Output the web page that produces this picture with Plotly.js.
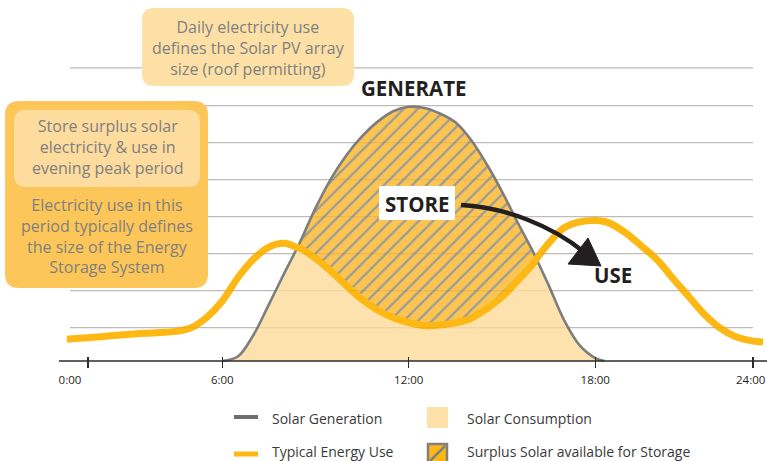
<!DOCTYPE html>
<html><head><meta charset="utf-8">
<script src="https://cdn.plot.ly/plotly-3.0.1.min.js"></script>
<style>html,body{margin:0;padding:0;background:#fff;overflow:hidden}#chart{width:767px;height:461px}</style>
</head><body><div id="chart"></div>
<script>
// ---- data (x in hours on the drawn scale, y in grid units) ----
const hours = [1.0,1.5,2.0,2.5,3.0,3.5,4.0,4.5,5.0,5.5,6.0,6.5,7.0,7.5,8.0,8.4,8.5,9.0,9.5,10.0,10.5,11.0,11.5,12.0,12.5,13.0,13.5,14.0,14.5,15.0,15.5,16.0,16.1,16.5,17.0,17.5,18.0,18.3,18.5,19.0,19.5,20.0,20.5,21.0,21.5,22.0,22.5,23.0,23.4];
const energyUse = [0.59,0.62,0.65,0.69,0.72,0.75,0.77,0.80,0.90,1.18,1.62,2.25,2.75,3.08,3.18,3.07,3.05,2.77,2.42,2.03,1.66,1.37,1.17,1.04,0.96,0.97,1.03,1.15,1.41,1.73,2.17,2.63,2.75,3.18,3.60,3.76,3.80,3.77,3.71,3.45,3.10,2.73,2.23,1.75,1.27,0.90,0.66,0.55,0.51];
const solarGen = [null,null,null,null,null,null,null,null,null,null,0,0.12,0.70,1.53,2.38,3.04,3.21,4.13,4.93,5.57,6.08,6.47,6.75,6.87,6.84,6.69,6.45,5.98,5.33,4.58,3.75,2.95,2.77,2.05,1.10,0.42,0.08,0,null,null,null,null,null,null,null,null,null,null,null];
const tickHours = [1.68, 6, 12, 18, 23.07];
const tickLabelHours = [1.10, 6, 12, 18, 23.0];
const tickLabels = ['0:00','6:00','12:00','18:00','24:00'];
const gridLevels = [0.9,1.9,2.9,3.9,4.9,5.9,6.9,7.92];
const seriesNames = ['Solar Generation','Solar Consumption','Typical Energy Use','Surplus Solar available for Storage'];

// ---- layout geometry ----
const W=767,H=461,L=60,R=0,T=0,B=94;
const PW=W-L-R, PH=H-T-B;
const X0=35.8, XS=31.08, Y0=361, YS=37;
const xRange=[(L-X0)/XS,(W-R-X0)/XS];
const yRange=[(Y0-(H-B))/YS,(Y0-T)/YS];
const fx=p=>(p-L)/PW, fy=p=>(H-B-p)/PH;
function rr(x0,y0,x1,y1,r){
  const a=fx,b=fy;
  return `M${a(x0+r)},${b(y0)} L${a(x1-r)},${b(y0)} Q${a(x1)},${b(y0)} ${a(x1)},${b(y0+r)} L${a(x1)},${b(y1-r)} Q${a(x1)},${b(y1)} ${a(x1-r)},${b(y1)} L${a(x0+r)},${b(y1)} Q${a(x0)},${b(y1)} ${a(x0)},${b(y1-r)} L${a(x0)},${b(y0+r)} Q${a(x0)},${b(y0)} ${a(x0+r)},${b(y0)} Z`;
}
const P=(x,y)=>`${fx(x)},${fy(y)}`;

const consumption = solarGen.map((g,i)=> g===null ? null : Math.min(g, energyUse[i]));

const FONT='Open Sans, Noto Sans, sans-serif';
const traces=[
  {x:hours,y:solarGen,name:seriesNames[3],type:'scatter',mode:'lines',fill:'tozeroy',
   line:{width:0,shape:'spline',smoothing:1},fillcolor:'#FCC552',
   fillpattern:{shape:'/',bgcolor:'#FCC552',fgcolor:'#9B9B9B',size:10,solidity:0.22},
   hoverinfo:'skip',showlegend:false},
  {x:hours,y:consumption,name:seriesNames[1],type:'scatter',mode:'lines',fill:'tozeroy',
   line:{width:0,shape:'spline',smoothing:1},fillcolor:'#FDE2AE',hoverinfo:'skip',showlegend:false},
  {x:hours,y:solarGen,name:seriesNames[0],type:'scatter',mode:'lines',
   line:{width:2.6,color:'#7E7E7E',shape:'spline',smoothing:1},hoverinfo:'skip',showlegend:false},
  {x:hours,y:energyUse,name:seriesNames[2],type:'scatter',mode:'lines',xaxis:'x2',
   line:{width:7,color:'#FDB813',shape:'spline',smoothing:1},hoverinfo:'skip',showlegend:false}
];

const shapes=[];
gridLevels.forEach(g=>shapes.push({type:'line',xref:'paper',yref:'y',x0:fx(70),x1:fx(753),y0:g,y1:g,line:{color:'#C9C9C9',width:1.2},layer:'below'}));
gridLevels.forEach(g=>shapes.push({type:'line',xref:'paper',yref:'y',x0:fx(70),x1:fx(753),y0:g,y1:g,line:{color:'rgba(120,90,30,0.10)',width:1.2},layer:'above'}));
shapes.push({type:'line',xref:'paper',yref:'y',x0:fx(59),x1:1,y0:0,y1:0,line:{color:'#2B2B2B',width:1.6},layer:'above'});
shapes.push({type:'path',xref:'paper',yref:'paper',path:rr(142,8,354,86,12),fillcolor:'#FDE0A6',line:{width:0},layer:'above'});
shapes.push({type:'path',xref:'paper',yref:'paper',path:rr(5,101,208,288,14),fillcolor:'#FDC658',line:{width:0},layer:'above'});
shapes.push({type:'path',xref:'paper',yref:'paper',path:rr(14,110,200,187,12),fillcolor:'#FDDC9E',line:{width:0},layer:'above'});
shapes.push({type:'rect',xref:'paper',yref:'paper',x0:fx(379),x1:fx(455),y0:fy(220),y1:fy(186),fillcolor:'#FFFFFF',line:{width:0},layer:'above'});
shapes.push({type:'path',xref:'paper',yref:'paper',path:`M${P(461,205)} C${P(505,207)} ${P(552,226)} ${P(584,252)}`,fillcolor:'rgba(0,0,0,0)',line:{color:'#231F20',width:4.5},layer:'above'});
shapes.push({type:'path',xref:'paper',yref:'paper',path:`M${P(588,238)} L${P(568,264)} L${P(601,266)} Z`,fillcolor:'#231F20',line:{color:'#231F20',width:1},layer:'above'});
// legend keys
shapes.push({type:'line',xref:'paper',yref:'paper',x0:fx(234),x1:fx(258),y0:fy(417),y1:fy(417),line:{color:'#6D6E71',width:4}});
shapes.push({type:'rect',xref:'paper',yref:'paper',x0:fx(427),x1:fx(448),y0:fy(428),y1:fy(407),fillcolor:'#FDE1A8',line:{width:0}});
shapes.push({type:'line',xref:'paper',yref:'paper',x0:fx(234),x1:fx(258),y0:fy(454),y1:fy(454),line:{color:'#FDB813',width:5}});
shapes.push({type:'rect',xref:'paper',yref:'paper',x0:fx(428),x1:fx(447),y0:fy(463),y1:fy(444),fillcolor:'#FDB813',line:{color:'#808080',width:2.5}});
shapes.push({type:'line',xref:'paper',yref:'paper',x0:fx(430),x1:fx(445),y0:fy(461),y1:fy(446),line:{color:'#808080',width:2.5}});

const ann=(t,x,y,o={})=>Object.assign({text:t,xref:'paper',yref:'paper',x:fx(x),y:fy(y),showarrow:false,xanchor:'center',yanchor:'middle',
  font:{family:FONT,size:16,color:'#808080'}},o);
const bold={family:FONT,size:20.5,color:'#231F20',weight:700};
const legFont={family:FONT,size:14,color:'#3A3A3A'};
const annotations=[
  ann('Daily electricity use<br>defines the Solar PV array<br>size (roof permitting)',248,48),
  ann('Store surplus solar<br>electricity &amp; use in<br>evening peak period',107,147),
  ann('Electricity use in this<br>period typically defines<br>the size of the Energy<br>Storage System',107,236),
  ann('<b>GENERATE</b>',414,88,{font:bold}),
  ann('<b>STORE</b>',417,204,{font:bold}),
  ann('<b>USE</b>',613,275,{font:bold}),
  ann(seriesNames[0],270,418,{xanchor:'left',font:legFont}),
  ann(seriesNames[1],465,418,{xanchor:'left',font:legFont}),
  ann(seriesNames[2],270,451,{xanchor:'left',font:legFont}),
  ann(seriesNames[3],465,451,{xanchor:'left',font:legFont})
];

const layout={
  width:W,height:H,margin:{l:L,r:R,t:T,b:B},paper_bgcolor:'#fff',plot_bgcolor:'rgba(0,0,0,0)',
  showlegend:false,
  xaxis:{range:xRange,anchor:'free',position:(H-B-356)/PH,showline:false,showgrid:false,zeroline:false,
    ticks:'outside',ticklen:11,tickwidth:1.4,tickcolor:'#2B2B2B',tickmode:'array',tickvals:tickHours,showticklabels:false,fixedrange:true},
  xaxis2:{range:xRange,overlaying:'x',anchor:'free',position:0,showline:false,showgrid:false,zeroline:false,
    ticks:'',tickmode:'array',tickvals:tickLabelHours,ticktext:tickLabels,ticklabeloverflow:'allow',ticklabelstandoff:4,
    tickfont:{family:FONT,size:11.5,color:'#231F20'},fixedrange:true},
  yaxis:{range:yRange,showgrid:false,zeroline:false,showticklabels:false,ticks:'',showline:false,fixedrange:true},
  shapes:shapes,annotations:annotations
};
Plotly.newPlot('chart',traces,layout,{displayModeBar:false,staticPlot:true});
</script></body></html>
